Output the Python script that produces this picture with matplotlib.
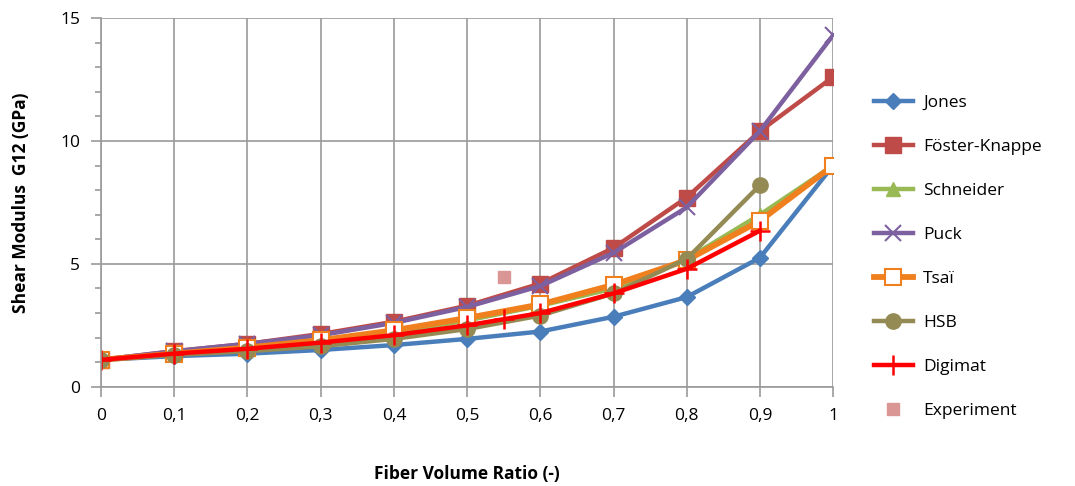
import numpy as np
import matplotlib.pyplot as plt
from matplotlib.ticker import MultipleLocator, FuncFormatter

plt.rcParams['font.family'] = ['Open Sans', 'DejaVu Sans']

# data
vf = [0, 0.1, 0.2, 0.3, 0.4, 0.5, 0.6, 0.7, 0.8, 0.9, 1.0]
jones = [1.1, 1.25, 1.35, 1.5, 1.7, 1.95, 2.25, 2.85, 3.65, 5.25, 9.0]
foster = [1.1, 1.45, 1.75, 2.15, 2.65, 3.3, 4.2, 5.65, 7.7, 10.4, 12.6]
schneider = [1.1, 1.35, 1.6, 1.85, 2.2, 2.7, 3.3, 4.0, 5.2, 7.0, 9.0]
puck = [1.1, 1.45, 1.75, 2.1, 2.6, 3.25, 4.1, 5.45, 7.3, 10.4, 14.3]
tsai = [1.1, 1.35, 1.6, 1.9, 2.3, 2.8, 3.35, 4.15, 5.15, 6.75, 9.0]

vf_hsb = [0, 0.1, 0.2, 0.3, 0.4, 0.5, 0.6, 0.7, 0.8, 0.9]
hsb = [1.1, 1.3, 1.45, 1.65, 1.95, 2.35, 2.9, 3.8, 5.2, 8.2]

vf_digimat = [0, 0.1, 0.2, 0.3, 0.4, 0.5, 0.55, 0.6, 0.7, 0.8, 0.9]
digimat = [1.1, 1.35, 1.55, 1.8, 2.1, 2.5, 2.75, 3.0, 3.8, 4.8, 6.35]

vf_exp = [0.55]
experiment = [4.47]

fig = plt.figure(figsize=(10.75, 4.86), dpi=100)
ax = fig.add_axes([0.094, 0.204, 0.681, 0.759])

lw = 3.2
ax.plot(vf, jones, color='#4A7EBB', lw=lw, marker='D', ms=8, label='Jones')
ax.plot(vf, foster, color='#BE4B48', lw=lw, marker='s', ms=11, label='Föster-Knappe')
ax.plot(vf, schneider, color='#98B954', lw=lw, marker='^', ms=10, label='Schneider')
ax.plot(vf, puck, color='#7D60A0', lw=lw, marker='x', ms=11, mew=1.5, label='Puck')
ax.plot(vf, tsai, color='#F07F1E', lw=lw + 1, marker='s', ms=12, mfc='white',
        mec='#F07F1E', mew=1.5, label='Tsaï')
ax.plot(vf_hsb, hsb, color='#948A54', lw=lw, marker='o', ms=11, label='HSB')
ax.plot(vf_digimat, digimat, color='#FF0000', lw=lw, marker='+', ms=14, mew=1.8,
        label='Digimat')
ax.plot(vf_exp, experiment, ls='none', color='#D99694', marker='s', ms=9,
        label='Experiment')

ax.set_xlim(0, 1)
ax.set_ylim(0, 15)
ax.xaxis.set_major_locator(MultipleLocator(0.1))
ax.yaxis.set_major_locator(MultipleLocator(5))
ax.yaxis.set_minor_locator(MultipleLocator(1))
ax.xaxis.set_major_formatter(FuncFormatter(lambda v, p: ('%g' % round(v, 1)).replace('.', ',')))

ax.grid(True, which='major', color='#9a9a9a', lw=1.2)
ax.set_axisbelow(True)
for s in ax.spines.values():
    s.set_color('#9a9a9a')
    s.set_linewidth(1.2)
ax.spines['top'].set_visible(False)
ax.spines['right'].set_visible(False)
ax.tick_params(which='both', direction='out', color='#9a9a9a', width=1.2, labelsize=12.5)
ax.tick_params(which='major', length=7, pad=8)
ax.tick_params(which='minor', length=4)

ax.set_xlabel('Fiber Volume Ratio (-)', fontsize=12.5, fontweight='bold', labelpad=30)
ax.set_ylabel('Shear Modulus  G12 (GPa)', fontsize=12.5, fontweight='bold', labelpad=22)

ax.legend(loc='center left', bbox_to_anchor=(1.035, 0.352), frameon=False, fontsize=12.5,
          handlelength=2.2, labelspacing=1.6, handletextpad=0.6)

fig.savefig('out.png', dpi=100)
